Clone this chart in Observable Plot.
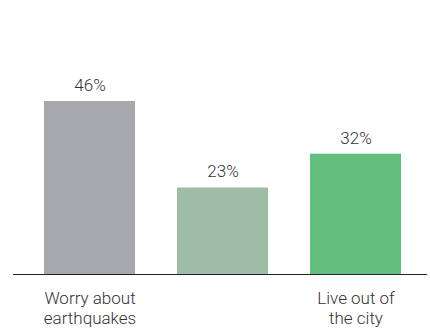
<!DOCTYPE html>
<html>
<head>
<meta charset="utf-8">
<script src="https://cdn.jsdelivr.net/npm/d3@7"></script>
<script src="https://cdn.jsdelivr.net/npm/@observablehq/plot@0.6"></script>
<style>
  html, body { margin: 0; padding: 0; background: #fff; }
  svg { display: block; }
</style>
</head>
<body>
<div id="chart"></div>
<script>
const keys = ["a", "b", "c"];
const labels = ["Worry about\nearthquakes", "", "Live out of\nthe city"];
const values = [46, 23, 32];
const colors = ["#a7a8ab", "#9fbca6", "#64bf7f"];

const data = keys.map((k, i) => ({key: k, label: labels[i], value: values[i], color: colors[i]}));

const chart = Plot.plot({
  width: 430,
  height: 329,
  marginLeft: 13,
  marginRight: 3,
  marginTop: 101,
  marginBottom: 55,
  style: {fontFamily: "Roboto", fontWeight: 300},
  x: {domain: keys, range: [44, 401], padding: 0.316, paddingOuter: 0, axis: null},
  y: {domain: [0, d3.max(values)], axis: null},
  marks: [
    Plot.barY(data, {x: "key", y: "value", fill: "color"}),
    Plot.ruleY([0], {stroke: "#222", strokeWidth: 1}),
    Plot.text(data, {x: "key", y: "value", text: d => d.value + "%", dy: -16, lineAnchor: "middle", fontSize: 17, fill: "#333"}),
    Plot.text(data, {x: "key", y: 0, text: "label", dy: 15, lineAnchor: "top", fontSize: 17, lineHeight: 1.2, fill: "#333"})
  ]
});
document.getElementById("chart").appendChild(chart);
</script>
</body>
</html>
